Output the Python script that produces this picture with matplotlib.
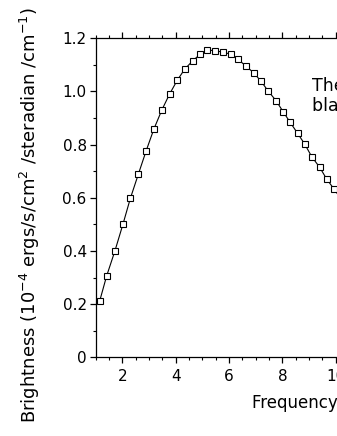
import numpy as np
import matplotlib
matplotlib.use("Agg")
import matplotlib.pyplot as plt
from matplotlib.ticker import MultipleLocator, FuncFormatter

# values (frequency in cm^-1, brightness in 1e-4 units)
freq = [1.15, 1.41, 1.72, 2.02, 2.30, 2.60, 2.89, 3.18, 3.48, 3.77,
        4.06, 4.34, 4.63, 4.92, 5.19, 5.49, 5.77, 6.06, 6.33, 6.62,
        6.92, 7.19, 7.46, 7.76, 8.03, 8.28, 8.57, 8.84, 9.10, 9.40,
        9.66, 9.94, 10.22, 10.50]
bright = [0.212, 0.306, 0.400, 0.500, 0.598, 0.689, 0.776, 0.858, 0.930, 0.990,
          1.042, 1.084, 1.114, 1.140, 1.155, 1.153, 1.147, 1.140, 1.121, 1.096,
          1.070, 1.039, 1.002, 0.965, 0.923, 0.885, 0.842, 0.801, 0.754, 0.714,
          0.670, 0.632, 0.592, 0.553]

plt.rcParams['font.family'] = ['DejaVu Sans']

fig = plt.figure(figsize=(3.37, 4.36), dpi=100)
# axes runs past the right edge, the reference is a crop
ax = fig.add_axes([0.284, 0.1805, 1.583, 0.732])

ax.plot(freq, bright, color='black', lw=0.8, marker='s', ms=4.0,
        mfc='white', mec='black', mew=0.8)

ax.set_xlim(1, 21)
ax.set_ylim(0, 1.2)
ax.xaxis.set_major_locator(MultipleLocator(2))
ax.xaxis.set_minor_locator(MultipleLocator(0.5))
ax.yaxis.set_major_locator(MultipleLocator(0.2))
ax.yaxis.set_minor_locator(MultipleLocator(0.1))
ax.yaxis.set_major_formatter(FuncFormatter(lambda v, p: "0" if abs(v) < 1e-9 else f"{v:.1f}"))

ax.tick_params(axis='both', which='both', direction='out', colors='black', labelsize=11)
ax.tick_params(axis='x', which='both', top=True, labeltop=False)
ax.tick_params(axis='both', which='major', length=4.5, width=0.9)
ax.tick_params(axis='both', which='minor', length=2.5, width=0.8)
ax.tick_params(axis='y', which='major', pad=2)
ax.tick_params(axis='x', which='major', pad=4)
ax.spines['right'].set_visible(False)
for s in ['left', 'bottom', 'top']:
    ax.spines[s].set_linewidth(0.9)

ax.text(9.12, 1.054, "Theoretical\nblackbody spectrum", fontsize=12.5,
        va='top', ha='left', linespacing=1.15)

fig.text(252 / 337, 1 - 408 / 436, "Frequency (cycles/cm)", fontsize=12,
         ha='left', va='baseline')
fig.text(30 / 337, 1 - 423 / 436,
         r"Brightness (10$^{-4}$ ergs/s/cm$^{2}$ /steradian /cm$^{-1}$)",
         fontsize=13, rotation=90, ha='center', va='bottom')

fig.savefig("out.png", dpi=100)
